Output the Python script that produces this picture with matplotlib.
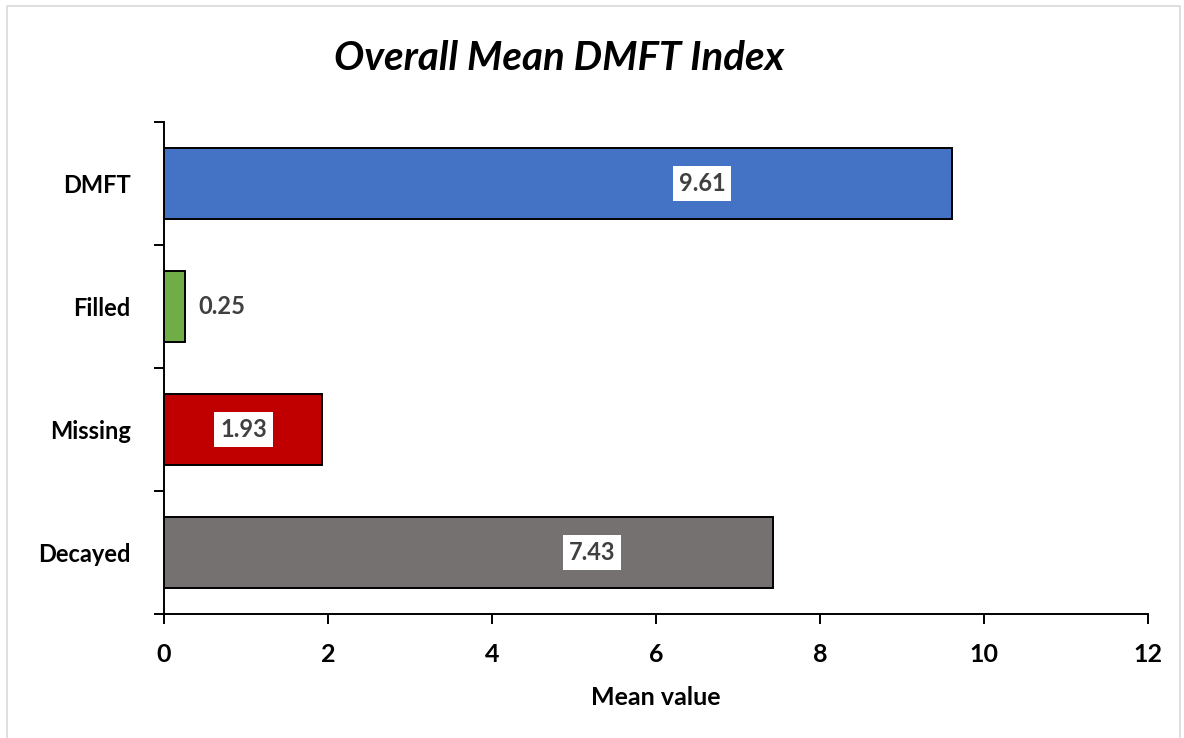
import matplotlib
matplotlib.use("Agg")
import matplotlib.pyplot as plt
from matplotlib.lines import Line2D
from matplotlib.ticker import FixedLocator

# ---- data ----
categories = ["Decayed", "Missing", "Filled", "DMFT"]
mean_values = [7.43, 1.93, 0.25, 9.61]
bar_colors = ["#767171", "#C00000", "#70AD47", "#4472C4"]
# where each value label sits along its bar (None -> just past the bar end)
label_x = [5.22, 0.97, None, 6.56]

TEXT = "#404040"
plt.rcParams["font.family"] = ["Lato", "DejaVu Sans"]

fig = plt.figure(figsize=(11.84, 7.38), dpi=100)
ax = fig.add_axes([164 / 1184, 1 - 614 / 738, (1148 - 164) / 1184, (614 - 122) / 738])

ypos = list(range(len(categories)))
ax.barh(ypos, mean_values, height=0.58, color=bar_colors,
        edgecolor="black", linewidth=1.4, zorder=2)

for y, v, lx in zip(ypos, mean_values, label_x):
    if lx is None:
        ax.annotate(f"{v:.2f}", xy=(v, y), xytext=(10, 0), textcoords="offset points",
                    ha="left", va="center", fontsize=17, fontweight="bold", color=TEXT)
    else:
        ax.text(lx, y, f"{v:.2f}", ha="center", va="center", fontsize=17,
                fontweight="bold", color=TEXT, zorder=3,
                bbox=dict(boxstyle="square,pad=0.25", facecolor="white", edgecolor="none"))

ax.set_xlim(0, 12)
ax.set_ylim(-0.5, len(categories) - 0.5)
ax.set_xticks(range(0, 13, 2))
ax.tick_params(axis="x", direction="out", length=7, width=1.4, pad=14,
               labelsize=18, labelcolor="black")
for t in ax.get_xticklabels():
    t.set_fontweight("bold")

# category names centred, tick marks on the band boundaries
ax.set_yticks(ypos)
ax.set_yticklabels(categories, fontsize=17, fontweight="bold")
ax.tick_params(axis="y", which="major", length=0, pad=24)
ax.yaxis.set_minor_locator(FixedLocator([i - 0.5 for i in range(len(categories) + 1)]))
ax.tick_params(axis="y", which="minor", direction="out", length=7, width=1.4)

for side in ("top", "right"):
    ax.spines[side].set_visible(False)
for side in ("left", "bottom"):
    ax.spines[side].set_linewidth(1.4)

ax.set_xlabel("Mean value", fontsize=18, fontweight="bold", labelpad=14)

fig.text(559 / 1184, 1 - 58 / 738, "Overall Mean DMFT Index", ha="center", va="center",
         fontsize=29, fontweight="bold", fontstyle="italic", color="black")

# light chart-area frame
fx = [7 / 1184, 7 / 1184, 1180 / 1184, 1180 / 1184]
fy = [0.0, 1 - 6 / 738, 1 - 6 / 738, 0.0]
fig.add_artist(Line2D(fx, fy, transform=fig.transFigure, color="#D9D9D9", linewidth=1.2))

fig.savefig("out.png", dpi=100)
